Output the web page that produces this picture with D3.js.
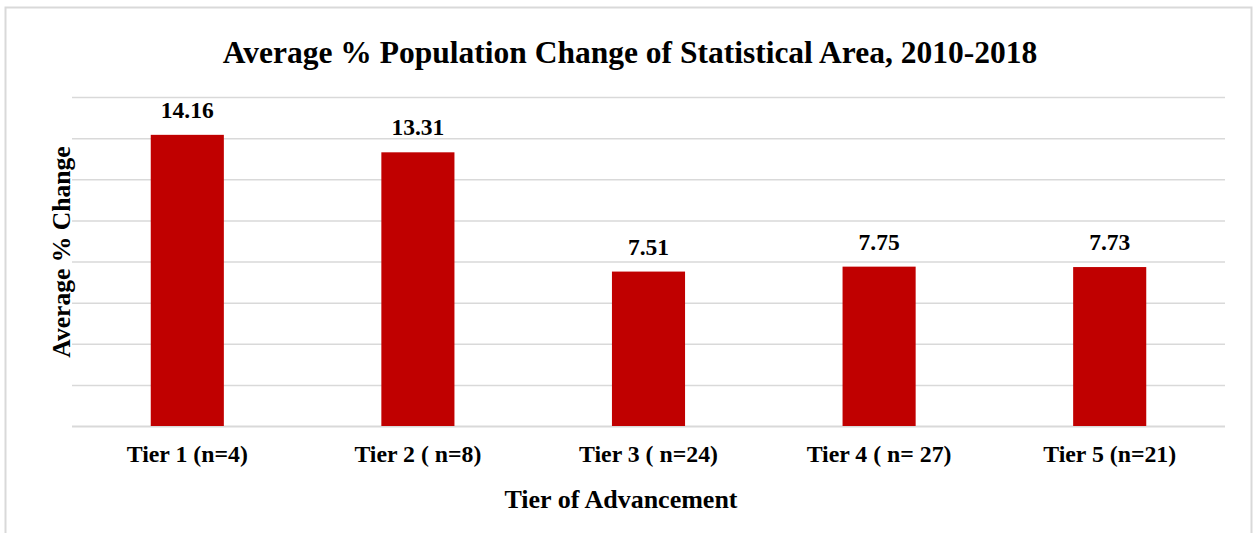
<!DOCTYPE html>
<html>
<head>
<meta charset="utf-8">
<script src="https://cdn.jsdelivr.net/npm/d3@7/dist/d3.min.js"></script>
<style>
    body { margin: 0; background: #fff; }
    text { font-family: "Liberation Serif", "Times New Roman", serif; font-weight: bold; fill: #000; }
</style>
</head>
<body>
<div id="chart"></div>
<script>
// ---- data ----
const tiers = ['Tier 1 (n=4)', 'Tier 2 ( n=8)', 'Tier 3 ( n=24)', 'Tier 4 ( n= 27)', 'Tier 5 (n=21)'];
const avgChange = [14.16, 13.31, 7.51, 7.75, 7.73];
const yTicks = [0, 2, 4, 6, 8, 10, 12, 14, 16];

const svgWidth = 1253;
const svgHeight = 533;
const margin = { top: 97, right: 28, bottom: 107, left: 72 };
const width = svgWidth - margin.left - margin.right;
const height = svgHeight - margin.top - margin.bottom;

const svg = d3.select('#chart').append('svg')
    .attr('width', svgWidth)
    .attr('height', svgHeight);

// outer frame (bottom edge runs off the picture)
svg.append('rect')
    .attr('x', 5.5).attr('y', 7.5)
    .attr('width', 1246).attr('height', 560)
    .attr('fill', 'none')
    .attr('stroke', '#d9d9d9')
    .attr('stroke-width', 2);

const chartGroup = svg.append('g').attr('transform', `translate(${margin.left}, ${margin.top})`);

const xScale = d3.scaleBand().domain(tiers).range([0, width]).paddingInner(0.683).paddingOuter(0.3415);
const yScale = d3.scaleLinear().domain([0, 16]).range([height, 0]);

// gridlines
chartGroup.append('g')
    .call(d3.axisLeft(yScale).tickValues(yTicks).tickSize(-width).tickFormat(''))
    .call(g => g.select('.domain').remove())
    .selectAll('line')
    .attr('stroke', '#d9d9d9')
    .attr('stroke-width', d => d === 0 ? 2 : 1.5);

// bars
chartGroup.selectAll('rect.bar').data(avgChange)
    .enter()
    .append('rect')
    .attr('class', 'bar')
    .attr('x', (d, i) => xScale(tiers[i]))
    .attr('y', d => yScale(d))
    .attr('width', xScale.bandwidth())
    .attr('height', d => height - yScale(d))
    .attr('fill', '#c00000');

// value labels
chartGroup.selectAll('text.val').data(avgChange)
    .enter()
    .append('text')
    .attr('class', 'val')
    .attr('x', (d, i) => xScale(tiers[i]) + xScale.bandwidth() / 2)
    .attr('y', d => yScale(d) - 17)
    .attr('text-anchor', 'middle')
    .style('font-size', '23.5px')
    .text(d => d.toFixed(2));

// category labels
const xAxis = chartGroup.append('g')
    .attr('transform', `translate(0, ${height})`)
    .call(d3.axisBottom(xScale).tickSize(0).tickPadding(0));
xAxis.select('.domain').remove();
xAxis.selectAll('text')
    .attr('y', 36)
    .attr('dy', null)
    .style('font-size', '23.8px')
    .style('font-family', '"Liberation Serif", "Times New Roman", serif');

// titles
svg.append('text')
    .attr('x', 630).attr('y', 63)
    .attr('text-anchor', 'middle')
    .style('font-size', '31.5px')
    .text('Average % Population Change of Statistical Area, 2010-2018');

svg.append('text')
    .attr('x', 621).attr('y', 508)
    .attr('text-anchor', 'middle')
    .style('font-size', '26px')
    .text('Tier of Advancement');

svg.append('text')
    .attr('transform', 'translate(70, 252) rotate(-90)')
    .attr('text-anchor', 'middle')
    .style('font-size', '25.6px')
    .text('Average % Change');
</script>
</body>
</html>
